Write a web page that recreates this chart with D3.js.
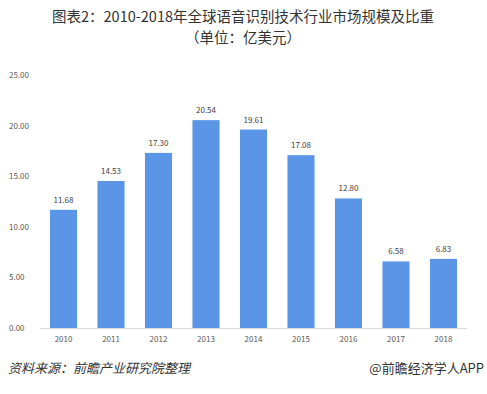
<!DOCTYPE html>
<html lang="zh">
<head>
<meta charset="UTF-8">
<title>全球语音识别技术行业市场规模</title>
<script src="https://d3js.org/d3.v7.min.js"></script>
<style>
  body { margin: 0; background: #fff; font-family: "Noto Sans CJK SC", "Liberation Sans", sans-serif; }
  svg { display: block; }
</style>
</head>
<body>
<div id="chart"></div>
<script>
const years = ["2010", "2011", "2012", "2013", "2014", "2015", "2016", "2017", "2018"];
const values = [11.68, 14.53, 17.30, 20.54, 19.61, 17.08, 12.80, 6.58, 6.83];
const yTicks = [0, 5, 10, 15, 20, 25];
const titleLines = ["图表2：2010-2018年全球语音识别技术行业市场规模及比重", "（单位：亿美元）"];

const width = 487, height = 394;
const svg = d3.select("#chart").append("svg")
  .attr("width", width).attr("height", height);

// title
svg.append("g").selectAll("text")
  .data(titleLines).join("text")
  .attr("x", 243)
  .attr("y", (d, i) => 22 + i * 21)
  .attr("text-anchor", "middle")
  .style("font-size", "14.5px").style("fill", "#333")
  .text(d => d);

const x = d3.scaleBand().domain(years).range([40, 467]).paddingInner(0.43).paddingOuter(0.21);
const y = d3.scaleLinear().domain([0, 25]).range([328, 75]);

// y tick labels
svg.append("g").selectAll("text")
  .data(yTicks).join("text")
  .attr("x", 9).attr("y", d => y(d) + 3)
  .style("font-size", "8px").style("fill", "#595959")
  .text(d => d.toFixed(2));

// baseline
svg.append("line")
  .attr("x1", 40).attr("x2", 467)
  .attr("y1", y(0) + 0.5).attr("y2", y(0) + 0.5)
  .attr("stroke", "#d9d9d9");

// bars
svg.append("g").selectAll("rect")
  .data(values).join("rect")
  .attr("x", (d, i) => x(years[i]))
  .attr("width", x.bandwidth())
  .attr("y", d => y(d))
  .attr("height", d => y(0) - y(d))
  .attr("fill", "#5a96e5");

// value labels
svg.append("g").selectAll("text")
  .data(values).join("text")
  .attr("x", (d, i) => x(years[i]) + x.bandwidth() / 2)
  .attr("y", d => y(d) - 7)
  .attr("text-anchor", "middle")
  .style("font-size", "8px").style("fill", "#404040")
  .text(d => d.toFixed(2));

// x labels
svg.append("g").selectAll("text")
  .data(years).join("text")
  .attr("x", d => x(d) + x.bandwidth() / 2)
  .attr("y", 342)
  .attr("text-anchor", "middle")
  .style("font-size", "8px").style("fill", "#595959")
  .text(d => d);

// footer
svg.append("text")
  .attr("x", 8).attr("y", 373)
  .style("font-size", "13px").style("font-style", "italic").style("fill", "#333")
  .text("资料来源：前瞻产业研究院整理");
svg.append("text")
  .attr("x", 484).attr("y", 373)
  .attr("text-anchor", "end")
  .style("font-size", "13px").style("fill", "#333")
  .text("@前瞻经济学人APP");
</script>
</body>
</html>
